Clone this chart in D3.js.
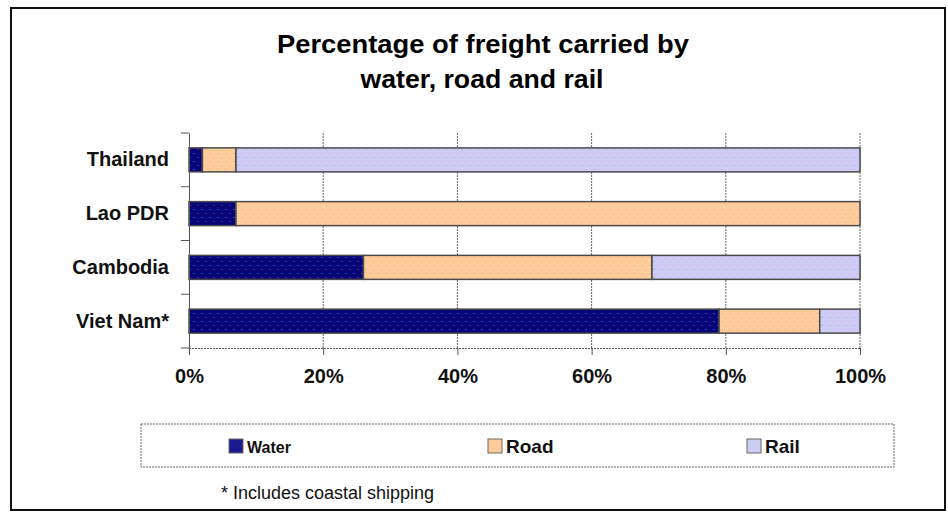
<!DOCTYPE html>
<html>
<head>
<meta charset="utf-8">
<script src="https://cdn.jsdelivr.net/npm/d3@7"></script>
<style>
  html, body { margin: 0; padding: 0; background: #fff; }
  svg { display: block; }
  text { font-family: Arial, "Liberation Sans", sans-serif; }
</style>
</head>
<body>
<svg id="chart" width="948" height="517"></svg>
<script>
// ---- data ----
const categories = ["Thailand", "Lao PDR", "Cambodia", "Viet Nam*"];
const seriesNames = ["Water", "Road", "Rail"];
const water = [2, 7, 26, 79];
const road  = [5, 93, 43, 15];
const rail  = [93, 0, 31, 6];
const xTicks = [0, 20, 40, 60, 80, 100];
const titleLines = ["Percentage of freight carried by", "water, road and rail"];
const footnote = "* Includes coastal shipping";

const rows = categories.map((c, i) => ({ cat: c, Water: water[i], Road: road[i], Rail: rail[i] }));

const svg = d3.select("#chart");

// patterns
const defs = svg.append("defs");
const pat = [
  { id: "pWater", base: "#050578", dot: "#3a3ac8", dot2: "#5a1a8a" },
  { id: "pRoad",  base: "#ffcc99", dot: "#e8b0a0", dot2: "#c8d0a8" },
  { id: "pRail",  base: "#ccccf4", dot: "#f0a8f0", dot2: "#b8b8e0" }
];
pat.forEach(p => {
  const g = defs.append("pattern").attr("id", p.id).attr("patternUnits", "userSpaceOnUse")
    .attr("width", 8).attr("height", 8);
  g.append("rect").attr("width", 8).attr("height", 8).attr("fill", p.base);
  g.append("rect").attr("x", 1).attr("y", 1).attr("width", 2).attr("height", 1).attr("fill", p.dot);
  g.append("rect").attr("x", 5).attr("y", 5).attr("width", 2).attr("height", 1).attr("fill", p.dot2);
});
const fillFor = { Water: "url(#pWater)", Road: "url(#pRoad)", Rail: "url(#pRail)" };
const swatchFor = { Water: "#1a1a90", Road: "#ffcc99", Rail: "#ccccf4" };

// outer frame
svg.append("rect").attr("x", 11).attr("y", 8).attr("width", 934).attr("height", 502)
  .attr("fill", "none").attr("stroke", "#111").attr("stroke-width", 2);

// title
svg.append("text").attr("x", 483).attr("y", 53).attr("text-anchor", "middle")
  .attr("font-size", 26).attr("font-weight", "bold").attr("textLength", 412).attr("lengthAdjust", "spacingAndGlyphs")
  .text(titleLines[0]);
svg.append("text").attr("x", 482).attr("y", 88).attr("text-anchor", "middle")
  .attr("font-size", 26).attr("font-weight", "bold").attr("textLength", 243).attr("lengthAdjust", "spacingAndGlyphs")
  .text(titleLines[1]);

// scales
const x = d3.scaleLinear().domain([0, 100]).range([189, 860]);
const y = d3.scaleBand().domain(categories).range([133, 348]).padding(0);
const barH = 24;

// gridlines
svg.append("g").selectAll("line").data(xTicks.filter(t => t > 0)).join("line")
  .attr("x1", d => x(d)).attr("x2", d => x(d)).attr("y1", 133).attr("y2", 348)
  .attr("stroke", "#666").attr("stroke-width", 1).attr("stroke-dasharray", "2,1");

// bars
const stack = d3.stack().keys(seriesNames)(rows);
const barG = svg.append("g");
stack.forEach(layer => {
  barG.selectAll(null).data(layer.filter(d => d[1] - d[0] > 0)).join("rect")
    .attr("x", d => x(d[0]))
    .attr("width", d => x(d[1]) - x(d[0]))
    .attr("y", d => y(d.data.cat) + y.bandwidth() / 2 - barH / 2)
    .attr("height", barH)
    .attr("fill", fillFor[layer.key])
    .attr("stroke", "#4a4a4a").attr("stroke-width", 1.5);
});

// x axis
const xAxis = d3.axisBottom(x).tickValues(xTicks).tickFormat(d => d + "%").tickSize(7).tickPadding(14);
const gx = svg.append("g").attr("transform", "translate(0,348)").call(xAxis);
gx.select(".domain").attr("stroke", "#555").attr("stroke-dasharray", "2,1");
gx.selectAll(".tick line").attr("stroke", "#555");
gx.selectAll("text").attr("font-size", 20).attr("font-weight", "bold").attr("fill", "#111")
  .attr("font-family", "Arial, 'Liberation Sans', sans-serif");

// y axis
const yAxis = d3.axisLeft(y).tickSize(0).tickPadding(20);
const gy = svg.append("g").attr("transform", "translate(189,0)").call(yAxis);
gy.select(".domain").attr("stroke", "#555");
gy.selectAll("text").attr("font-size", 20).attr("font-weight", "bold").attr("fill", "#111")
  .attr("font-family", "Arial, 'Liberation Sans', sans-serif");
// band-boundary ticks
const bounds = categories.map(c => y(c)).concat([y.range()[1]]);
gy.append("g").selectAll("line").data(bounds).join("line")
  .attr("x1", -8).attr("x2", 0).attr("y1", d => d).attr("y2", d => d)
  .attr("stroke", "#555");

// legend
const lg = svg.append("g");
lg.append("rect").attr("x", 141).attr("y", 424).attr("width", 753).attr("height", 43)
  .attr("fill", "#fff").attr("stroke", "#666").attr("stroke-dasharray", "2,1");
const legendX = d3.scalePoint().domain(seriesNames).range([229, 747]);
const items = lg.selectAll("g.item").data(seriesNames).join("g").attr("class", "item")
  .attr("transform", d => `translate(${legendX(d)},439)`);
items.append("rect").attr("width", 14).attr("height", 14)
  .attr("fill", d => swatchFor[d]).attr("stroke", "#666");
items.append("text").attr("x", 18).attr("y", 14)
  .attr("font-size", d => d === "Water" ? 16 : 19).attr("font-weight", "bold").attr("fill", "#111")
  .text(d => d);

// footnote
svg.append("text").attr("x", 221).attr("y", 499).attr("font-size", 18).attr("fill", "#111")
  .text(footnote);
</script>
</body>
</html>
